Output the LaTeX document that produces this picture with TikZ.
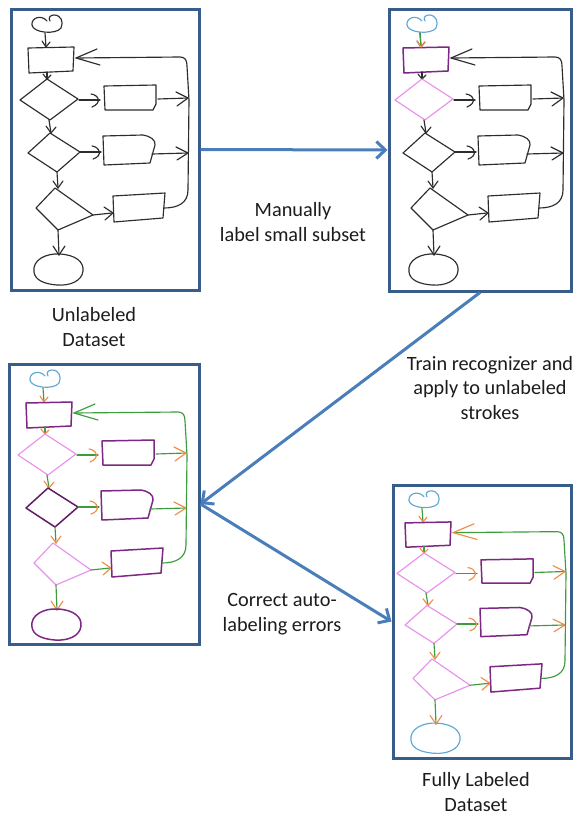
\documentclass[tikz,border=0pt]{standalone}
\usepackage{fontspec}
\setmainfont{Carlito}
\usetikzlibrary{arrows.meta}

\definecolor{panelblue}{RGB}{56,93,138}
\definecolor{flowblue}{RGB}{74,126,187}
\definecolor{inkgray}{RGB}{45,45,45}
\definecolor{skblue}{RGB}{95,168,214}
\definecolor{skpurple}{RGB}{125,40,132}
\definecolor{skdarkpurple}{RGB}{98,28,102}
\definecolor{skpink}{RGB}{234,145,236}
\definecolor{skgreen}{RGB}{62,156,62}
\definecolor{skorange}{RGB}{242,142,72}
\definecolor{textgray}{RGB}{28,28,28}

\tikzset{
  panel/.style={draw=panelblue, line width=3pt, fill=white, inner sep=0pt},
  flow/.style={draw=flowblue, line width=3pt,
    -{Straight Barb[length=9pt,width=17pt]}, shorten >=0pt},
  caption/.style={text=textgray, align=center, inner sep=0pt,
    font=\fontsize{20.3}{24.5}\selectfont},
  % hand-drawn flowchart strokes
  sk/.style={line width=1.15pt, line cap=round, line join=round, draw=inkgray},
  sk cloud/.style={}, sk rect/.style={}, sk dia one/.style={},
  sk dia two/.style={}, sk dia three/.style={}, sk box/.style={},
  sk end/.style={}, sk stem/.style={}, sk tip/.style={},
  sk loop/.style={}, sk back/.style={},
}

% one hand-drawn flowchart, in pixel-like units
\newcommand\flowsketch{%
  % start terminal
  \draw[sk, sk cloud] (47,21) .. controls (41,14) and (31,18) .. (32,25)
    .. controls (33,33) and (56,35) .. (61,28)
    .. controls (64,22) and (61,15) .. (54,15)
    .. controls (50,15) and (48,18) .. (50,21);
  \draw[sk, sk stem] (45,33) -- (46,47);
  \draw[sk, sk tip] (42,41) -- (46,47) -- (50,42);
  % process box
  \draw[sk, sk rect] (28,48) -- (74,47) -- (73,71) -- (29,73) -- cycle;
  \draw[sk, sk stem] (47,72) -- (47,79);
  \draw[sk, sk tip] (43,74) -- (47,79) -- (51,75);
  % first decision
  \draw[sk, sk dia one] (47,79) -- (78,99) -- (50,120) -- (20,100) -- cycle;
  \draw[sk, sk stem] (79,100) -- (100,100);
  \draw[sk, sk tip] (91,94) .. controls (99,95) and (102,103) .. (92,107);
  \draw[sk, sk box] (104,86) -- (156,85) -- (156,104) -- (153,110) -- (105,110) -- cycle;
  \draw[sk, sk stem] (158,99) -- (188,98);
  \draw[sk, sk tip] (176,92) -- (188,98) -- (177,106);
  \draw[sk, sk stem] (49,120) -- (51,133);
  \draw[sk, sk tip] (46,126) -- (51,133) -- (56,127);
  % second decision
  \draw[sk, sk dia two] (50,133) -- (80,152) -- (57,172) -- (28,153) -- cycle;
  \draw[sk, sk stem] (80,152) -- (101,152);
  \draw[sk, sk tip] (92,146) .. controls (100,147) and (103,156) .. (93,159);
  \draw[sk, sk box] (103,136) -- (143,135) .. controls (150,136) and (156,140) .. (155,145)
    -- (150,163) -- (104,165) -- cycle;
  \draw[sk, sk stem] (152,154) -- (188,153);
  \draw[sk, sk tip] (176,147) -- (188,153) -- (177,160);
  \draw[sk, sk stem] (57,172) -- (58,188);
  \draw[sk, sk tip] (53,181) -- (58,188) -- (63,181);
  % third decision
  \draw[sk, sk dia three] (55,188) -- (93,215) -- (58,230) -- (36,208) -- cycle;
  \draw[sk, sk stem] (93,215) -- (112,213);
  \draw[sk, sk tip] (104,207) -- (113,213) -- (105,220);
  \draw[sk, sk box] (113,196) -- (165,193) -- (163,218) -- (114,222) -- cycle;
  \draw[sk, sk stem] (58,230) -- (59,255);
  \draw[sk, sk tip] (53,246) -- (59,255) -- (65,246);
  % end terminal
  \draw[sk, sk end] (34,272) .. controls (32,260) and (46,253) .. (60,254)
    .. controls (76,255) and (84,262) .. (83,271)
    .. controls (82,281) and (70,286) .. (57,285)
    .. controls (44,284) and (35,280) .. (34,272) -- cycle;
  % feedback loop back to the process box
  \draw[sk, sk loop] (164,208) .. controls (178,208) and (188,203) .. (188,190)
    -- (189,100) -- (187,66) .. controls (187,60) and (185,57) .. (180,57) -- (76,58);
  \draw[sk, sk back] (97,49) -- (76,58) -- (100,65);
}

\begin{document}
\begin{tikzpicture}[x=1pt, y=-1pt]
\useasboundingbox (0,0) rectangle (573,817);

% dataset panels
\node[panel, minimum width=188pt, minimum height=281pt] (p1) at (105,149.5) {};
\node[panel, minimum width=182pt, minimum height=282pt] (p2) at (480,150) {};
\node[panel, minimum width=190pt, minimum height=280pt] (p3) at (104,504) {};
\node[panel, minimum width=178pt, minimum height=273pt] (p4) at (482,621.5) {};

% unlabeled sketch
\begin{scope}
  \flowsketch
\end{scope}

% a few strokes labelled by hand
\begin{scope}[shift={(375,0)},
  sk cloud/.style={draw=skblue},
  sk rect/.style={draw=skpurple, line width=1.5pt},
  sk dia one/.style={draw=skpink}]
  \flowsketch
  \draw[sk, draw=skgreen] (45,33) -- (46,47);
  \draw[sk, draw=skorange] (42,41) -- (46,47) -- (50,42);
\end{scope}

% auto-labelled sketch
\begin{scope}[shift={(-2,355)},
  sk cloud/.style={draw=skblue},
  sk rect/.style={draw=skpurple, line width=1.5pt},
  sk dia one/.style={draw=skpink},
  sk dia two/.style={draw=skdarkpurple, line width=1.5pt},
  sk dia three/.style={draw=skpink},
  sk box/.style={draw=skpurple, line width=1.5pt},
  sk end/.style={draw=skpurple, line width=1.5pt},
  sk stem/.style={draw=skgreen},
  sk tip/.style={draw=skorange},
  sk loop/.style={draw=skgreen},
  sk back/.style={draw=skgreen}]
  \flowsketch
\end{scope}

% fully labelled sketch
\begin{scope}[shift={(377,485)}, yscale=0.972, shift={(0,-9)},
  sk cloud/.style={draw=skblue},
  sk rect/.style={draw=skpurple, line width=1.5pt},
  sk dia one/.style={draw=skpink},
  sk dia two/.style={draw=skpink},
  sk dia three/.style={draw=skpink},
  sk box/.style={draw=skpurple, line width=1.5pt},
  sk end/.style={draw=skblue},
  sk stem/.style={draw=skgreen},
  sk tip/.style={draw=skorange},
  sk loop/.style={draw=skgreen},
  sk back/.style={draw=skorange}]
  \flowsketch
\end{scope}

% workflow arrows
\draw[flow] (p1.east) -- (p2.west);
\draw[flow] (p2.south) -- (p3.east);
\draw[flow] (p3.east) -- (p4.west);

% captions
\node[caption] (c1) at (293,222) {Manually\\label small subset};
\node[caption] (c2) at (94,327) {Unlabeled\\Dataset};
\node[caption] (c3) at (490,388) {Train recognizer and\\apply to unlabeled\\strokes};
\node[caption] (c4) at (282,614) {Correct auto-\\labeling errors};
\node[caption] (c5) at (476,792) {Fully Labeled\\Dataset};
\end{tikzpicture}
\end{document}
